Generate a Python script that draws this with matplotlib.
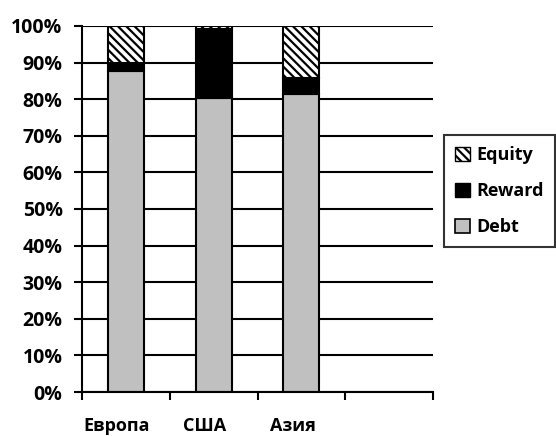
import matplotlib.pyplot as plt
from matplotlib.patches import Patch
from matplotlib.ticker import FixedLocator, PercentFormatter

plt.rcParams['font.family'] = ['Open Sans', 'DejaVu Sans']
plt.rcParams['font.weight'] = 'bold'
plt.rcParams['hatch.linewidth'] = 1.6
plt.rcParams['hatch.color'] = '#303030'

regions = ['Европа', 'США', 'Азия']
debt = [87.8, 80.2, 81.3]
reward = [2.2, 18.9, 4.4]
equity = [10.0, 0.9, 14.3]

n_slots = 4
bar_w = 0.41

fig = plt.figure(figsize=(5.56, 4.36), dpi=100)
ax = fig.add_axes([0.1475, 0.1009, 0.6313, 0.8395])

x = list(range(len(regions)))
bottom_reward = debt
bottom_equity = [d + r for d, r in zip(debt, reward)]

ax.bar(x, debt, bar_w, color='#c0c0c0', edgecolor='black', linewidth=1.5, zorder=3)
ax.bar(x, reward, bar_w, bottom=bottom_reward, color='black', edgecolor='black', linewidth=1.5, zorder=3)
ax.bar(x, equity, bar_w, bottom=bottom_equity, color='white', edgecolor='black', linewidth=1.5,
       hatch='\\\\\\\\', zorder=3)

ax.set_xlim(-0.5, n_slots - 0.5)
ax.set_ylim(0, 100)

# gridlines every 10%
ax.set_yticks(range(0, 101, 10))
ax.yaxis.set_major_formatter(PercentFormatter(decimals=0))
ax.grid(axis='y', color='black', linewidth=1.5, zorder=0)

# slot boundaries as ticks, labels in the middle
ax.xaxis.set_major_locator(FixedLocator([i - 0.5 for i in range(n_slots + 1)]))
ax.xaxis.set_major_formatter(plt.NullFormatter())
ax.xaxis.set_minor_locator(FixedLocator([i - 0.1 for i in x]))
ax.set_xticklabels(regions, minor=True)
ax.tick_params(axis='x', which='minor', length=0, pad=18, labelsize=13)
ax.tick_params(axis='x', which='major', length=6, width=1.5, direction='out')
ax.tick_params(axis='y', length=6, width=1.5, direction='out', labelsize=14, pad=8)

for s in ['top', 'right']:
    ax.spines[s].set_visible(False)
for s in ['left', 'bottom']:
    ax.spines[s].set_linewidth(1.5)
    ax.spines[s].set_zorder(4)

handles = [Patch(facecolor='white', edgecolor='black', hatch='\\\\\\\\', label='Equity'),
           Patch(facecolor='black', edgecolor='black', label='Reward'),
           Patch(facecolor='#c0c0c0', edgecolor='black', linewidth=1.2, label='Debt')]
leg = fig.legend(handles=handles, loc='upper left', bbox_to_anchor=(0.7986, 0.690),
                 fontsize=13, frameon=True, fancybox=False, edgecolor='black',
                 handlelength=0.85, handleheight=0.85, handletextpad=0.35,
                 labelspacing=1.0, borderpad=0.6, borderaxespad=0)
leg.get_frame().set_linewidth(1.5)

fig.savefig('out.png', dpi=100)
